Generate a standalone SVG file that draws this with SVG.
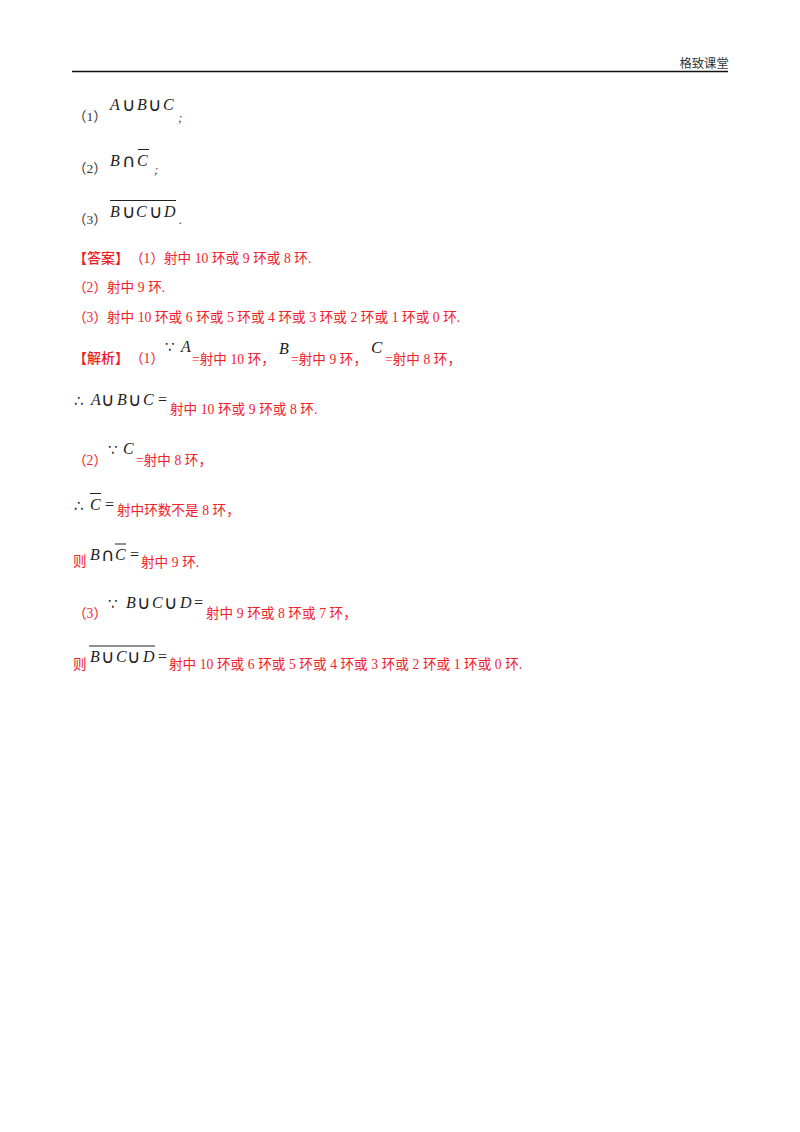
<svg xmlns="http://www.w3.org/2000/svg" width="800" height="1132" viewBox="0 0 800 1132">
<style>
text{font-family:"Liberation Serif","Noto Sans CJK SC",serif;white-space:pre}
.k{font-size:13.5px;fill:#333}
.r{font-size:13.6px;fill:#f0202c;word-spacing:.2px}
.b{font-weight:500;font-size:14px;fill:#ee1c25}
.m{font-size:16px;fill:#222;font-style:italic}
.o{font-size:16px;fill:#222}
.u{font-size:18.5px;fill:#222;font-family:"DejaVu Sans",sans-serif}
.t{font-size:15px;fill:#222;font-family:"DejaVu Sans",sans-serif}
.s{font-size:13px;fill:#444;font-style:italic}
.l{stroke:#222;stroke-width:1;fill:none}
</style>
<rect width="800" height="1132" fill="#fff"/>
<g id="header">
<line x1="72" y1="71.5" x2="728" y2="71.5" stroke="#111" stroke-width="1.5"/>
<text x="679.5" y="68" class="k" style="font-size:12.3px">格致课堂</text>
</g>
<g id="questions">
<text x="73" y="121" class="k">（1）</text>
<text x="110" y="110" class="m">A</text><text x="122" y="111" class="u">∪</text><text x="137" y="110" class="m">B</text><text x="148" y="111" class="u">∪</text><text x="163" y="110" class="m">C</text>
<text x="178" y="122" class="s">;</text>
<text x="73" y="173" class="k">（2）</text>
<text x="110" y="166" class="m">B</text><text x="122" y="167" class="u">∩</text><text x="137" y="166" class="m">C</text><line x1="138" y1="149.5" x2="149" y2="149.5" class="l"/>
<text x="154" y="174" class="s">;</text>
<text x="73" y="224" class="k">（3）</text>
<text x="110" y="217" class="m">B</text><text x="122" y="218" class="u">∪</text><text x="136" y="217" class="m">C</text><text x="149" y="218" class="u">∪</text><text x="164" y="217" class="m">D</text><line x1="110" y1="200.5" x2="176" y2="200.5" class="l"/>
<text x="179" y="224" class="s">.</text>
</g>
<g id="answer">
<text x="73" y="263" class="b">【答案】</text>
<text x="130" y="263" class="r">（1）射中 10 环或 9 环或 8 环.</text>
<text x="73" y="292" class="r">（2）射中 9 环.</text>
<text x="73" y="322" class="r">（3）射中 10 环或 6 环或 5 环或 4 环或 3 环或 2 环或 1 环或 0 环.</text>
</g>
<g id="analysis">
<text x="73" y="363" class="b">【解析】</text>
<text x="130" y="363" class="r">（1）</text>
<text x="165" y="352" class="t">∵</text><text x="181" y="352" class="m">A</text>
<text x="192" y="364" class="r">=射中 10 环，</text>
<text x="279" y="354" class="m">B</text>
<text x="291" y="364" class="r">=射中 9 环，</text>
<text x="371" y="353" class="m" style="font-size:17px">C</text>
<text x="385" y="364" class="r">=射中 8 环，</text>
<text x="74" y="406" class="t">∴</text><text x="91" y="405" class="m">A</text><text x="101" y="406" class="u">∪</text><text x="117" y="405" class="m">B</text><text x="128" y="406" class="u">∪</text><text x="143" y="405" class="m">C</text><text x="158" y="405" class="o">=</text>
<text x="170" y="414" class="r">射中 10 环或 9 环或 8 环.</text>
<text x="73" y="465" class="r">（2）</text>
<text x="108" y="455" class="t">∵</text><text x="123" y="454" class="m">C</text>
<text x="136" y="465" class="r">=射中 8 环，</text>
<text x="74" y="511" class="t">∴</text><text x="90" y="510" class="m">C</text><line x1="90" y1="493.5" x2="101" y2="493.5" class="l"/><text x="105" y="510" class="o">=</text>
<text x="117" y="515" class="r">射中环数不是 8 环，</text>
<text x="73" y="566" class="r">则</text>
<text x="90" y="560" class="m">B</text><text x="101" y="561" class="u">∩</text><text x="115" y="560" class="m">C</text><line x1="115" y1="544" x2="126" y2="544" class="l"/><text x="130" y="560" class="o">=</text>
<text x="141" y="567" class="r">射中 9 环.</text>
<text x="73" y="618" class="r">（3）</text>
<text x="108" y="609" class="t">∵</text><text x="126" y="608" class="m">B</text><text x="137" y="609" class="u">∪</text><text x="152" y="608" class="m">C</text><text x="164" y="609" class="u">∪</text><text x="180" y="608" class="m">D</text><text x="194" y="608" class="o">=</text>
<text x="206" y="618" class="r">射中 9 环或 8 环或 7 环，</text>
<text x="73" y="669" class="r">则</text>
<text x="90" y="662" class="m">B</text><text x="101" y="663" class="u">∪</text><text x="116" y="662" class="m">C</text><text x="127" y="663" class="u">∪</text><text x="143" y="662" class="m">D</text><line x1="89" y1="646" x2="155" y2="646" class="l"/><text x="158" y="662" class="o">=</text>
<text x="169" y="669" class="r">射中 10 环或 6 环或 5 环或 4 环或 3 环或 2 环或 1 环或 0 环.</text>
</g>
</svg>
